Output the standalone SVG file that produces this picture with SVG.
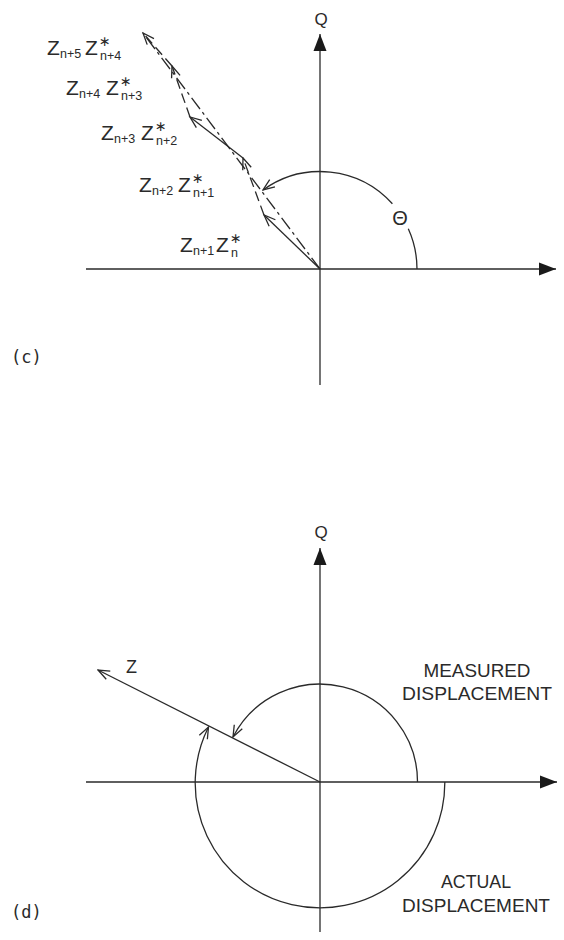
<svg xmlns="http://www.w3.org/2000/svg" width="564" height="940" viewBox="0 0 564 940">
<style>
.ln{fill:none;stroke:#2a2a2a;stroke-width:1.3}
.ds{stroke-dasharray:10 5}
.t{font-family:"Liberation Sans","DejaVu Sans",sans-serif;fill:#2a2a2a}
.z{font-size:21px}
.s{font-size:12.5px}
.st{font-size:14px;font-family:"DejaVu Sans",sans-serif}
.cap{font-size:19px}
.pl{font-family:"DejaVu Sans Mono","Liberation Mono",monospace;font-size:17px;fill:#2a2a2a}
</style>
<defs>
<marker id="fa" markerUnits="userSpaceOnUse" viewBox="0 0 18 14" markerWidth="18" markerHeight="14" refX="17" refY="7" orient="auto">
<path d="M0,0.5 L17,7 L0,13.5 z" fill="#1a1a1a"/>
</marker>
<marker id="oa" markerUnits="userSpaceOnUse" viewBox="0 0 14 12" markerWidth="14" markerHeight="12" refX="12.5" refY="6" orient="auto">
<path d="M1,1.5 L12.5,6 L1,10.5" fill="none" stroke="#2a2a2a" stroke-width="1.3"/>
</marker>
</defs>
<rect width="564" height="940" fill="#ffffff"/>

<g id="panel-c">
<g id="c-axes">
<path class="ln" d="M86,269 L556,269" marker-end="url(#fa)"/>
<path class="ln" d="M320,385 L320,34" marker-end="url(#fa)"/>
<text class="t" x="321" y="25" font-size="17" text-anchor="middle">Q</text>
</g>
<g id="c-vectors">
<path class="ln" d="M320,269 L264,215" marker-end="url(#oa)"/>
<path class="ln ds" d="M264,215 L243,158" marker-end="url(#oa)"/>
<path class="ln" d="M243,158 L190,117" marker-end="url(#oa)"/>
<path class="ln ds" d="M190,117 L172,66" marker-end="url(#oa)"/>
<path class="ln ds" d="M172,66 L143,33" marker-end="url(#oa)"/>
<path class="ln" d="M320,269 L143,33" stroke-dasharray="14 4 3 4"/>
</g>
<g id="c-theta">
<path class="ln" d="M417,269 A97.4,97.4 0 0 0 408.3,228.8"/>
<path class="ln" d="M392.4,203.8 A97.4,97.4 0 0 0 263,190" marker-end="url(#oa)"/>
<text class="t" x="400" y="225" font-size="20" text-anchor="middle">Θ</text>
</g>
<g id="c-labels">
<text id="lbl-5" class="t z" x="47" y="55">Z<tspan class="s" x="60" y="58">n+5</tspan><tspan x="85" y="55">Z</tspan><tspan class="st" x="99" y="46">∗</tspan><tspan class="s" x="100" y="59.5">n+4</tspan></text>
<text id="lbl-4" class="t z" x="66" y="95">Z<tspan class="s" x="79" y="98">n+4</tspan><tspan x="106" y="95">Z</tspan><tspan class="st" x="120" y="86">∗</tspan><tspan class="s" x="121" y="99.5">n+3</tspan></text>
<text id="lbl-3" class="t z" x="101" y="140">Z<tspan class="s" x="114" y="143">n+3</tspan><tspan x="141" y="140">Z</tspan><tspan class="st" x="155" y="131">∗</tspan><tspan class="s" x="156" y="144.5">n+2</tspan></text>
<text id="lbl-2" class="t z" x="139" y="192">Z<tspan class="s" x="152" y="195">n+2</tspan><tspan x="178" y="192">Z</tspan><tspan class="st" x="192" y="183">∗</tspan><tspan class="s" x="193" y="196.5">n+1</tspan></text>
<text id="lbl-1" class="t z" x="180" y="252">Z<tspan class="s" x="193" y="255">n+1</tspan><tspan x="216" y="252">Z</tspan><tspan class="st" x="230" y="243">∗</tspan><tspan class="s" x="231" y="256.5">n</tspan></text>
</g>
<text id="c-tag" class="pl" x="11" y="363">(c)</text>
</g>

<g id="panel-d">
<g id="d-axes">
<path class="ln" d="M86,782 L557,782" marker-end="url(#fa)"/>
<path class="ln" d="M320,932 L320,548" marker-end="url(#fa)"/>
<text class="t" x="321" y="538" font-size="17" text-anchor="middle">Q</text>
</g>
<g id="d-vector">
<path class="ln" d="M320,782 L98,670" marker-end="url(#oa)"/>
<text class="t" x="126" y="673" font-size="18">Z</text>
</g>
<g id="d-measured">
<path class="ln" d="M417.5,782 A97.7,97.7 0 0 0 233,737" marker-end="url(#oa)"/>
<text class="t cap" x="477" y="677" text-anchor="middle" textLength="107" lengthAdjust="spacingAndGlyphs">MEASURED</text>
<text class="t cap" x="477" y="700" text-anchor="middle" textLength="150" lengthAdjust="spacingAndGlyphs">DISPLACEMENT</text>
</g>
<g id="d-actual">
<path class="ln" d="M444.8,782 A124.8,124.8 0 1 1 208.5,727" marker-end="url(#oa)"/>
<text class="t cap" x="476" y="888" text-anchor="middle" textLength="70" lengthAdjust="spacingAndGlyphs">ACTUAL</text>
<text class="t cap" x="476" y="912" text-anchor="middle" textLength="148" lengthAdjust="spacingAndGlyphs">DISPLACEMENT</text>
</g>
<text id="d-tag" class="pl" x="11" y="918">(d)</text>
</g>
</svg>
